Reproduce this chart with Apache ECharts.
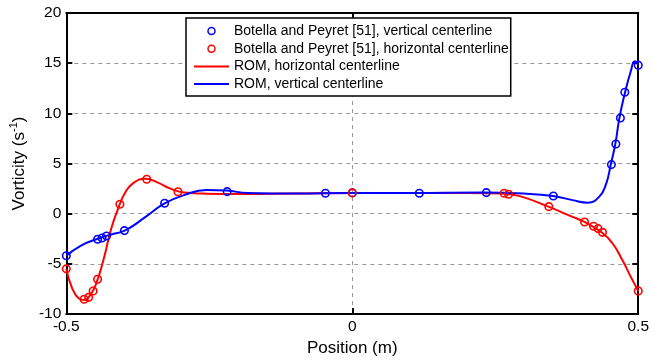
<!DOCTYPE html>
<html>
<head>
<meta charset="utf-8">
<script src="https://cdn.jsdelivr.net/npm/echarts@6/dist/echarts.min.js"></script>
<style>
html, body { margin: 0; padding: 0; background: #fff; }
#chart { width: 652px; height: 362px; }
</style>
</head>
<body>
<div id="chart"></div>
<script>
// Botella and Peyret reference points
var blueX = [-0.5, -0.4453, -0.4375, -0.4297, -0.3984, -0.3281, -0.2187, -0.0469, 0, 0.1172, 0.2344, 0.3516, 0.4531, 0.4609, 0.4688, 0.4766, 0.5];
var blueY = [-4.2, -2.55, -2.42, -2.22, -1.69, 1.04, 2.2, 2.03, 2.07, 2.03, 2.1, 1.76, 4.89, 6.95, 9.54, 12.1, 14.8];
var redX = [-0.5, -0.4688, -0.4609, -0.4531, -0.4453, -0.4063, -0.3594, -0.3047, 0, 0.2656, 0.2734, 0.3437, 0.4062, 0.4219, 0.4297, 0.4375, 0.5];
var redY = [-5.5, -8.53, -8.34, -7.71, -6.54, 0.94, 3.43, 2.19, 2.07, 2.03, 1.93, 0.70, -0.83, -1.26, -1.49, -1.86, -7.7];

// ROM curves
var romRedX = [-0.5, -0.49, -0.478, -0.468, -0.458, -0.448, -0.435, -0.422, -0.41, -0.398, -0.384, -0.362, -0.34, -0.318, -0.294, -0.26, -0.2, -0.1, 0, 0.1, 0.2, 0.262, 0.293, 0.343, 0.38, 0.405, 0.437, 0.455, 0.472, 0.487, 0.5];
var romRedY = [-5.5, -7.4, -8.45, -8.6, -8.1, -7.0, -4.6, -1.6, 0.4, 2.0, 3.0, 3.48, 3.1, 2.5, 2.1, 2.0, 1.95, 2.0, 2.05, 2.05, 2.05, 2.0, 1.75, 0.7, -0.2, -0.8, -1.9, -2.95, -4.6, -6.3, -7.7];
var romBlueX = [-0.5, -0.475, -0.445, -0.42, -0.398, -0.362, -0.329, -0.294, -0.255, -0.22, -0.183, -0.1, 0, 0.1, 0.23, 0.3, 0.351, 0.385, 0.412, 0.432, 0.444, 0.452, 0.46, 0.467, 0.477, 0.487, 0.494, 0.5];
var romBlueY = [-4.2, -3.2, -2.5, -2.05, -1.7, -0.35, 1.0, 1.85, 2.35, 2.3, 2.05, 2.0, 2.05, 2.05, 2.1, 2.0, 1.76, 1.35, 1.1, 1.7, 3.0, 4.9, 6.95, 9.5, 12.1, 14.2, 15.2, 14.8];

var names = [
  'Botella and Peyret [51], vertical centerline',
  'Botella and Peyret [51], horizontal centerline',
  'ROM, horizontal centerline',
  'ROM, vertical centerline'
];

function pairs(xs, ys) {
  var out = [];
  for (var i = 0; i < xs.length; i++) out.push([xs[i], ys[i]]);
  return out;
}

var FONT = 'Liberation Sans, Arial, sans-serif';
var chart = echarts.init(document.getElementById('chart'));

var frameAxis = function (extra) {
  var base = {
    type: 'value',
    axisLine: { show: true, onZero: false, lineStyle: { color: '#000', width: 2 } },
    axisTick: { show: true, inside: true, length: 6, lineStyle: { color: '#000', width: 2 } },
    splitLine: { show: false },
    axisLabel: { show: false }
  };
  for (var k in extra) base[k] = extra[k];
  return base;
};

var option = {
  animation: false,
  backgroundColor: '#fff',
  grid: { left: 65, right: 13, top: 13, bottom: 48, containLabel: false },
  legend: {
    orient: 'vertical',
    left: 186,
    top: 18,
    padding: [6, 2, 5, 7],
    itemWidth: 35,
    itemHeight: 7,
    itemGap: 3.7,
    backgroundColor: '#fff',
    borderColor: '#000',
    borderWidth: 1.5,
    borderRadius: 0,
    textStyle: { fontFamily: FONT, fontSize: 14, color: '#000', lineHeight: 14 },
    data: [
      { name: names[0], icon: 'circle', itemStyle: { color: '#fff', borderColor: '#0000ff', borderWidth: 1.5 } },
      { name: names[1], icon: 'circle', itemStyle: { color: '#fff', borderColor: '#ff0000', borderWidth: 1.5 } },
      { name: names[2], itemStyle: { opacity: 0 } },
      { name: names[3], itemStyle: { opacity: 0 } }
    ]
  },
  xAxis: [
    frameAxis({
      min: -0.5, max: 0.5, interval: 0.5, position: 'bottom',
      name: 'Position (m)', nameLocation: 'middle', nameGap: 25,
      nameTextStyle: { fontFamily: FONT, fontSize: 17, color: '#000' },
      axisLabel: { show: true, margin: 5, fontFamily: FONT, fontSize: 15.5, color: '#000' },
      splitLine: { show: true, lineStyle: { color: '#999', type: [4, 4], width: 1 } }
    }),
    frameAxis({ min: -0.5, max: 0.5, interval: 0.5, position: 'top' })
  ],
  yAxis: [
    frameAxis({
      min: -10, max: 20, interval: 5, position: 'left',
      name: '{a|Vorticity (s}{s|-1}{a|)}', nameLocation: 'middle', nameGap: 32,
      nameTextStyle: {
        fontFamily: FONT, fontSize: 17, color: '#000',
        rich: {
          a: { fontFamily: FONT, fontSize: 17, color: '#000', lineHeight: 20, verticalAlign: 'bottom' },
          s: { fontFamily: FONT, fontSize: 11, color: '#000', lineHeight: 20, verticalAlign: 'top', padding: [0, 0, 8, 0] }
        }
      },
      axisLabel: { show: true, margin: 5, fontFamily: FONT, fontSize: 15.5, color: '#000' },
      splitLine: { show: true, lineStyle: { color: '#999', type: [4, 4], width: 1 } }
    }),
    frameAxis({ min: -10, max: 20, interval: 5, position: 'right' })
  ],
  series: [
    {
      name: names[2], type: 'line', data: pairs(romRedX, romRedY),
      symbol: 'none', smooth: 0.5, z: 2,
      lineStyle: { color: '#ff0000', width: 2 }, itemStyle: { color: '#ff0000' }
    },
    {
      name: names[3], type: 'line', data: pairs(romBlueX, romBlueY),
      symbol: 'none', smooth: 0.5, z: 3,
      lineStyle: { color: '#0000ff', width: 2 }, itemStyle: { color: '#0000ff' }
    },
    {
      name: names[0], type: 'scatter', data: pairs(blueX, blueY),
      symbol: 'circle', symbolSize: 7.5, z: 4,
      itemStyle: { color: 'rgba(0,0,0,0)', borderColor: '#0000ff', borderWidth: 1.6, opacity: 1 }
    },
    {
      name: names[1], type: 'scatter', data: pairs(redX, redY),
      symbol: 'circle', symbolSize: 7.5, z: 5,
      itemStyle: { color: 'rgba(0,0,0,0)', borderColor: '#ff0000', borderWidth: 1.6, opacity: 1 }
    }
  ]
};
chart.setOption(option);
</script>
</body>
</html>
